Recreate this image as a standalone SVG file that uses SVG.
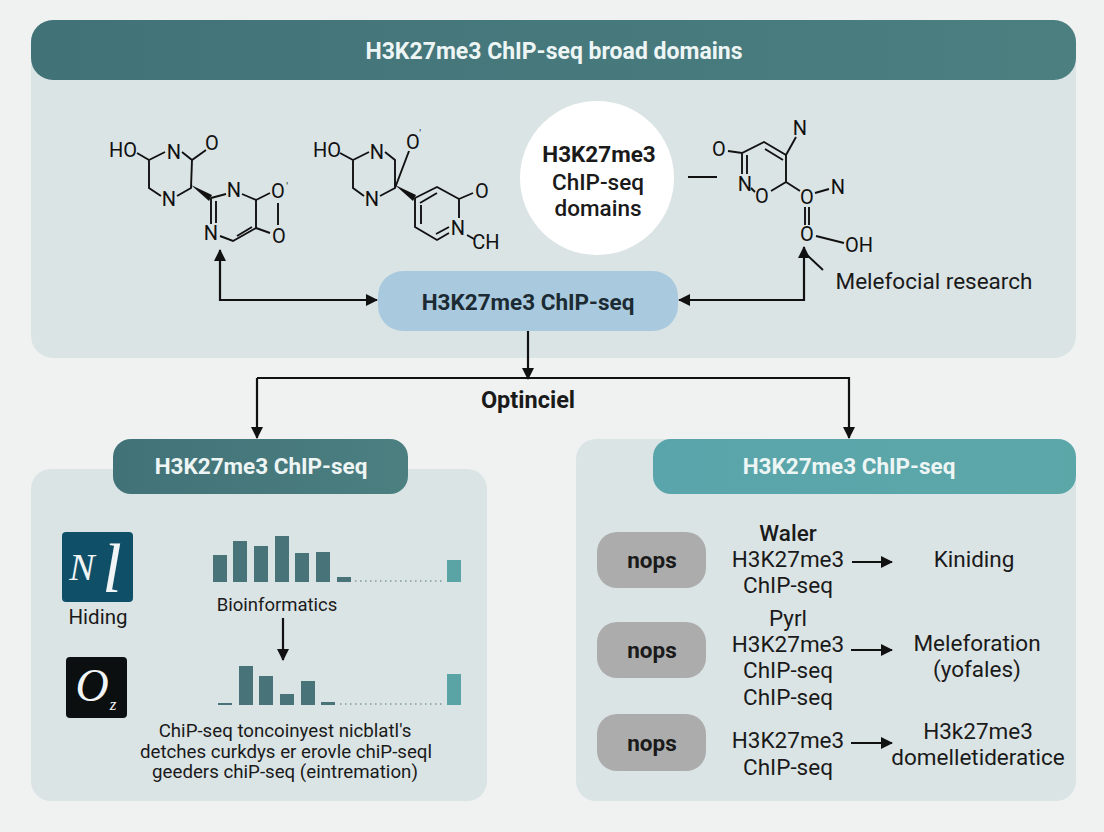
<svg xmlns="http://www.w3.org/2000/svg" width="1104" height="832" viewBox="0 0 1104 832">
<defs>
<linearGradient id="hd" x1="0" y1="0" x2="1" y2="0"><stop offset="0" stop-color="#417278"/><stop offset="1" stop-color="#4b7f80"/></linearGradient>
<linearGradient id="hd2" x1="0" y1="0" x2="1" y2="0"><stop offset="0" stop-color="#5aa5ab"/><stop offset="1" stop-color="#5ba7a8"/></linearGradient>
<marker id="a" markerWidth="13" markerHeight="12" refX="11" refY="6" orient="auto-start-reverse" markerUnits="userSpaceOnUse"><path d="M0 0L12 6L0 12Z" fill="#111"/></marker>
<style>
text{font-family:Roboto,"Liberation Sans",sans-serif;fill:#1a1a1a;text-anchor:middle}
.panel{fill:#dbe4e5}
.b{font-weight:700}
.hdr{font-weight:700;fill:#eef5f5}
.chem{font-size:20px;fill:#111}
.tick{font-size:10px;fill:#111}
.bond{fill:none;stroke:#111;stroke-width:1.9}
.con{fill:none;stroke:#111;stroke-width:2.2}
.t{font-size:22.5px}
.nops{fill:#acacac}
.bar{fill:#487479}
.tl{fill:#5ba4a6}
.dots{stroke:#7f9a9c;stroke-width:1.4;stroke-dasharray:1.5 3.5;fill:none}
.ic{font-family:"Liberation Serif",serif;font-style:italic;fill:#f2f5f5}
</style>
</defs>
<rect width="1104" height="832" fill="#f0f2f2"/>
<g id="panel-top"><rect class="panel" x="31" y="20" width="1045" height="338" rx="22"/></g>
<g id="title"><rect x="31" y="20" width="1045" height="60" rx="22" fill="url(#hd)"/><text class="hdr" x="554" y="59" font-size="23">H3K27me3 ChIP-seq broad domains</text></g>
<g id="mol1">
<path class="bond" d="M137 153L149 160L165 152M182 152L192 160L206 150M192 160L191 188L177 196M161 196L149 188V160M211 198V224M216 201V223M220 236L233 241L256 228V200L242 194M226 194L211 198M237 236L252 227M256 200L270 193M256 228L270 233M278 203V225"/>
<path d="M191 185L212 195L209 201Z" fill="#111"/>
<text class="chem" x="123" y="157">HO</text><text class="chem" x="174" y="159">N</text><text class="chem" x="212" y="150">O</text><text class="chem" x="169" y="206">N</text><text class="chem" x="234" y="197">N</text><text class="chem" x="278" y="198">O</text><text class="tick" x="287" y="190">'</text><text class="chem" x="211" y="240">N</text><text class="chem" x="279" y="243">O</text>
</g>
<g id="mol2">
<path class="bond" d="M340 153L353 160L369 152M385 152L395 160V188L380 196M364 196L353 188V160M395 188L409 151M415 198L437 187L459 199V218M420 203L437 193M415 198V227L437 240L449 233M421 224V205M436 234L449 227M459 199L473 193M467 235L474 239"/>
<path d="M395 185L416 195L413 201Z" fill="#111"/>
<text class="chem" x="327" y="157">HO</text><text class="chem" x="377" y="159">N</text><text class="chem" x="413" y="149">O</text><text class="tick" x="420" y="137">'</text><text class="chem" x="372" y="206">N</text><text class="chem" x="482" y="198">O</text><text class="chem" x="458" y="235">N</text><text class="chem" x="486" y="249">CH</text>
</g>
<g id="circle-node"><circle cx="597" cy="178" r="77" fill="#fff"/><text class="t b" x="599" y="162">H3K27me3</text><text class="t" x="598" y="190" font-weight="500">ChIP-seq</text><text class="t" x="598" y="216" font-weight="500">domains</text></g>
<g id="mol3">
<path class="bond" d="M688 177H717M728 151L742 153L764 142L786 155V182L771 191M755 192L751 188M742 153V174M747 155V174M765 149L783 160M786 155L796 137M786 182L800 191M815 193L829 189M805 207V225M809 207V225M816 236L844 243"/>
<text class="chem" x="719" y="156">O</text><text class="chem" x="800" y="135">N</text><text class="chem" x="745" y="191">N</text><text class="chem" x="762" y="203">O</text><text class="chem" x="807" y="204">O</text><text class="chem" x="838" y="194">N</text><text class="chem" x="807" y="241">O</text><text class="chem" x="859" y="252">OH</text>
<path class="bond" d="M807 255L823 270"/>
<text class="t" x="934" y="289">Melefocial research</text>
</g>
<g id="node-main"><rect x="378" y="271" width="300" height="60" rx="25" fill="#a9cade"/><text class="t b" x="528" y="310" style="fill:#1c2b33">H3K27me3 ChIP-seq</text></g>
<g id="label-opt"><text class="b" x="528" y="408" font-size="23.5">Optinciel</text></g>
<g id="panel-left"><rect class="panel" x="31" y="469" width="456" height="332" rx="20"/></g>
<g id="header-left"><rect x="113" y="439" width="295" height="55" rx="18" fill="url(#hd)"/><text class="hdr" x="261" y="474" font-size="22.5">H3K27me3 ChIP-seq</text></g>
<g id="panel-right"><rect class="panel" x="576" y="439" width="500" height="362" rx="20"/></g>
<g id="header-right"><rect x="653" y="439" width="423" height="55" rx="18" fill="url(#hd2)"/><text class="hdr" x="849" y="474" font-size="22.5">H3K27me3 ChIP-seq</text></g>
<g id="icon-n"><rect x="62" y="532" width="71" height="70" rx="4" fill="#0f5068"/><text class="ic" x="82" y="580" font-size="38">N</text><text class="ic" x="112" y="592" font-size="70">l</text><text x="98" y="624" font-size="20.5">Hiding</text></g>
<g id="icon-o"><rect x="66" y="657" width="61" height="61" rx="4" fill="#0b0f10"/><text class="ic" x="92" y="701" font-size="46">O</text><text class="ic" x="113" y="710" font-size="17">z</text></g>
<g id="chart1">
<rect class="bar" x="213" y="555" width="14" height="27"/><rect class="bar" x="233" y="541" width="14" height="41"/><rect class="bar" x="254" y="546" width="14" height="36"/><rect class="bar" x="275" y="536" width="14" height="46"/><rect class="bar" x="295" y="553" width="14" height="29"/><rect class="bar" x="316" y="552" width="14" height="30"/><rect class="bar" x="337" y="577" width="14" height="5"/>
<path class="dots" d="M355 581H445"/><rect class="tl" x="447" y="560" width="14" height="22"/>
<text x="277" y="611" font-size="18.5">Bioinformatics</text>
</g>
<g id="chart2">
<rect class="bar" x="218" y="703" width="14" height="2"/><rect class="bar" x="239" y="666" width="14" height="39"/><rect class="bar" x="259" y="676" width="14" height="29"/><rect class="bar" x="280" y="694" width="14" height="11"/><rect class="bar" x="301" y="681" width="14" height="24"/><rect class="bar" x="321" y="702" width="14" height="3"/>
<path class="dots" d="M340 704H445"/><rect class="tl" x="447" y="674" width="14" height="31"/>
</g>
<g id="caption" font-size="18.7"><text x="285" y="737">ChiP-seq toncoinyest nicblatl's</text><text x="286" y="758">detches curkdys er erovle chiP-seql</text><text x="285" y="778">geeders chiP-seq (eintremation)</text></g>
<g id="row1"><rect class="nops" x="597" y="532" width="109" height="56" rx="20"/><text class="t b" x="652" y="568">nops</text><text class="t" x="788" y="541" font-weight="500">Waler</text><text class="t" x="788" y="567">H3K27me3</text><text class="t" x="788" y="593">ChIP-seq</text><text class="t" x="974" y="567">Kiniding</text></g>
<g id="row2"><rect class="nops" x="597" y="622" width="109" height="56" rx="20"/><text class="t b" x="652" y="658">nops</text><text class="t" x="788" y="626">Pyrl</text><text class="t" x="788" y="652">H3K27me3</text><text class="t" x="788" y="678">ChIP-seq</text><text class="t" x="788" y="705">ChIP-seq</text><text class="t" x="977" y="651">Meleforation</text><text class="t" x="977" y="677">(yofales)</text></g>
<g id="row3"><rect class="nops" x="597" y="714" width="109" height="57" rx="20"/><text class="t b" x="652" y="751">nops</text><text class="t" x="788" y="748">H3K27me3</text><text class="t" x="788" y="775">ChIP-seq</text><text class="t" x="978" y="739">H3k27me3</text><text class="t" x="978" y="765">domelletideratice</text></g>
<g id="connectors">
<path class="con" marker-start="url(#a)" marker-end="url(#a)" d="M220 250V300H377"/>
<path class="con" marker-start="url(#a)" marker-end="url(#a)" d="M804 247V300H679"/>
<path class="con" marker-end="url(#a)" d="M528 331V379"/>
<path class="con" marker-end="url(#a)" d="M257 378H849V438"/>
<path class="con" marker-end="url(#a)" d="M257 378V438"/>
<path class="con" marker-end="url(#a)" d="M283 618V660"/>
<path class="con" marker-end="url(#a)" d="M852 562H892"/>
<path class="con" marker-end="url(#a)" d="M851 650H892"/>
<path class="con" marker-end="url(#a)" d="M851 743H892"/>
</g>
</svg>
